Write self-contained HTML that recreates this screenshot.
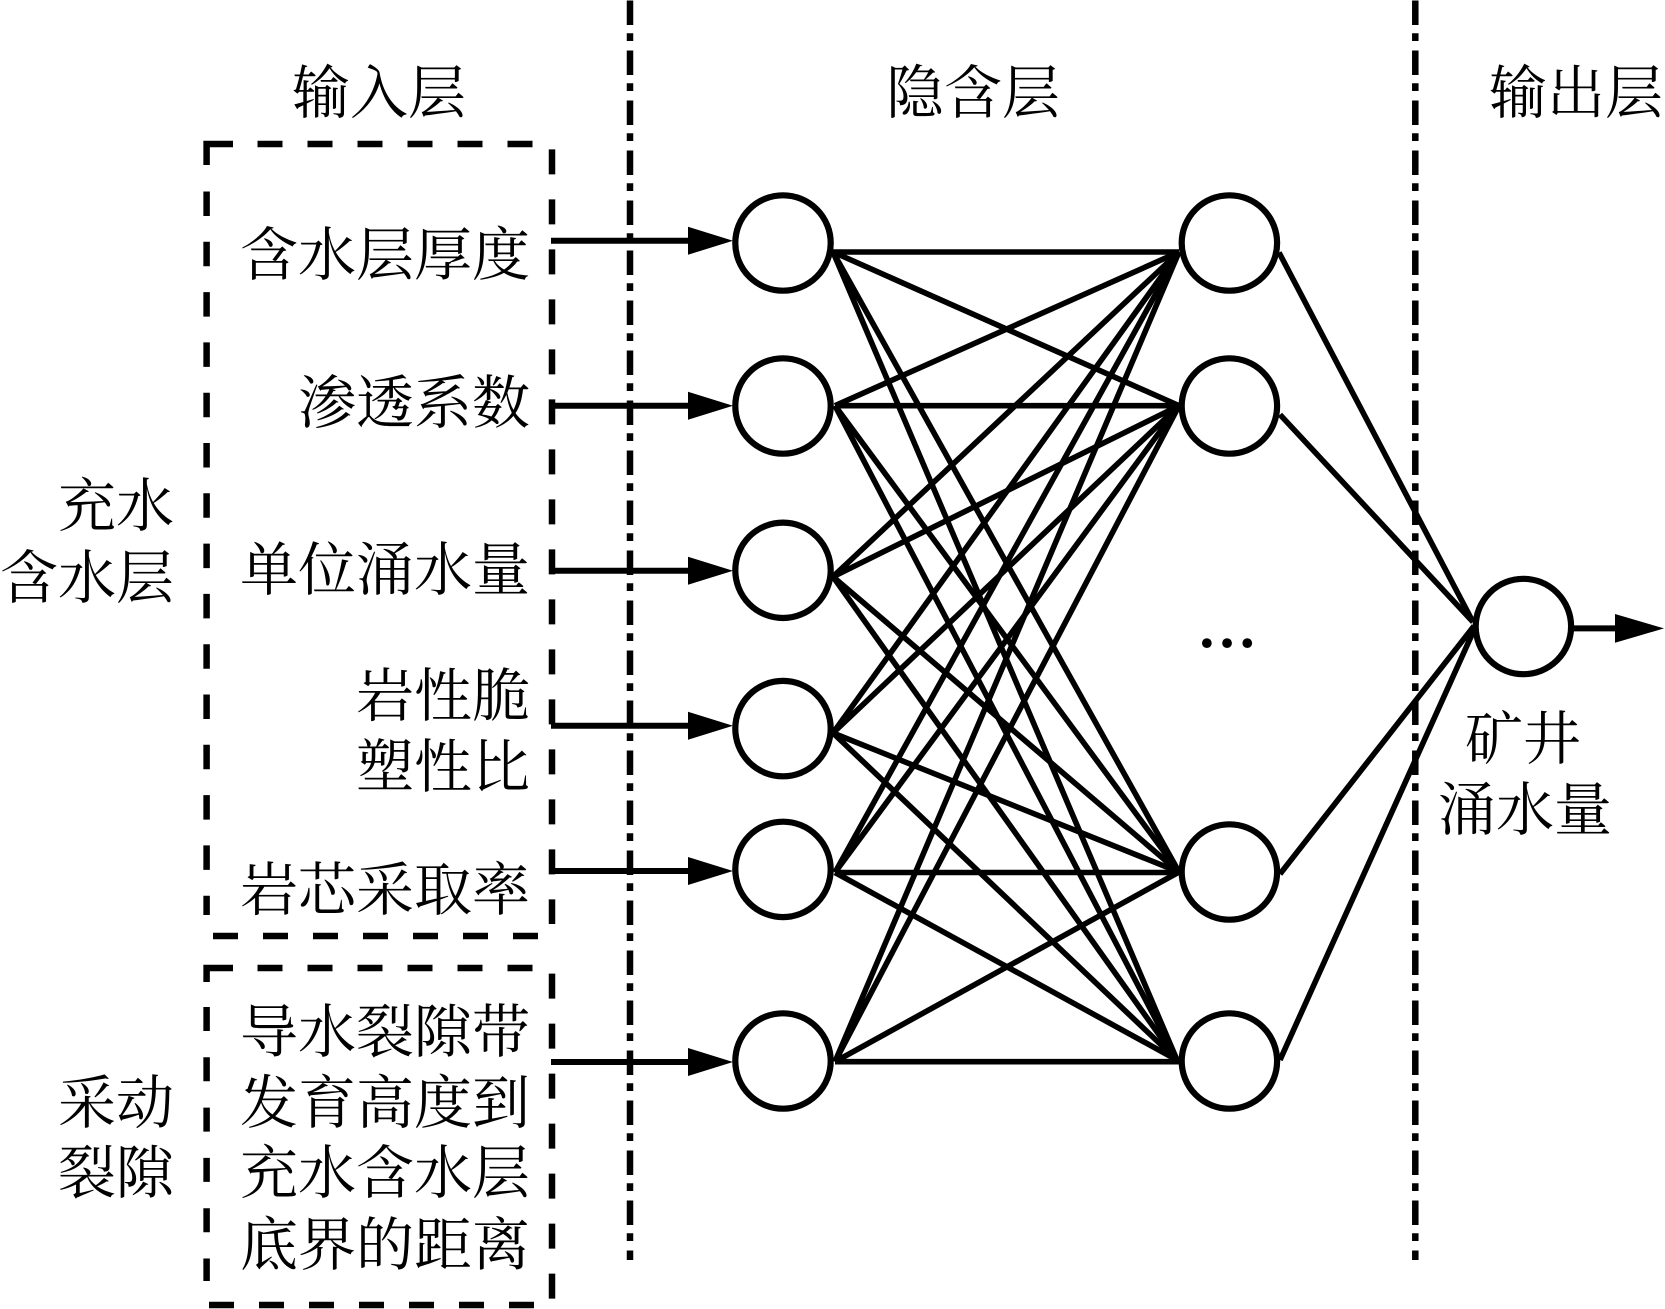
<!DOCTYPE html>
<html lang="zh"><head><meta charset="utf-8"><style>
html,body{margin:0;padding:0;background:#fff}
svg{display:block}
text{font-family:"Liberation Serif","Noto Serif CJK SC",serif;font-size:58px;fill:#000}
</style></head><body>
<svg xmlns="http://www.w3.org/2000/svg" width="1665" height="1309" viewBox="0 0 1665 1309">
<rect width="1665" height="1309" fill="#fff"/>
<g stroke="#000" stroke-width="6.5" fill="none" stroke-dasharray="24.5 8.3 7.7 9.5">
<line x1="630" y1="0.5" x2="630" y2="1260"/>
<line x1="1415.3" y1="0.5" x2="1415.3" y2="1260"/>
</g>
<g stroke="#000" stroke-width="6.5" fill="none">
<path d="M206.6 165V144H233"/>
<line x1="257.5" y1="144" x2="533" y2="144" stroke-dasharray="25 25"/>
<line x1="206.6" y1="191.5" x2="206.6" y2="915" stroke-dasharray="24.5 25.8"/>
<line x1="552" y1="149.4" x2="552" y2="924" stroke-dasharray="25 25"/>
<line x1="213" y1="936" x2="538" y2="936" stroke-dasharray="25 25"/>
<path d="M206.6 982V968H233"/>
<line x1="257.5" y1="968" x2="533" y2="968" stroke-dasharray="25 25"/>
<line x1="206.6" y1="1007" x2="206.6" y2="1281" stroke-dasharray="24 26.3"/>
<line x1="552" y1="973.6" x2="552" y2="1309" stroke-dasharray="25 25"/>
<line x1="209" y1="1305" x2="534" y2="1305" stroke-dasharray="25 25"/>
</g>
<g stroke="#000" stroke-width="5.6" fill="none">
<path d="M833 252L1179 252M833 252L1179 405.7M833 252L1179 872M833 252L1177 1060"/>
<path d="M835 405.7L1179 252M835 405.7L1179 405.7M835 405.7L1179 872M835 405.7L1177 1060"/>
<path d="M833 576.7L1179 252M833 576.7L1179 405.7M833 576.7L1179 872M833 576.7L1177 1060"/>
<path d="M833 733L1179 252M833 733L1179 405.7M833 733L1179 872M833 733L1177 1060"/>
<path d="M835 872.5L1179 252M835 872.5L1179 405.7M835 872.5L1179 872.5M835 872.5L1177 1060"/>
<path d="M835 1061.7L1179 252M835 1061.7L1179 405.7M835 1061.7L1179 872M835 1061.7L1179 1061.7"/>
<path d="M1279 252.5L1473 622M1280 414.6L1473 622M1280 874L1474 626M1280 1060L1474 630"/>
</g>
<g stroke="#000" stroke-width="6.2" fill="#fff">
<circle cx="783" cy="243" r="47.7"/>
<circle cx="783" cy="406" r="47.7"/>
<circle cx="783" cy="570.3" r="47.7"/>
<circle cx="783" cy="728.6" r="47.7"/>
<circle cx="783" cy="869.4" r="47.7"/>
<circle cx="783" cy="1061" r="47.7"/>
<circle cx="1229.4" cy="243" r="47.7"/>
<circle cx="1229.4" cy="406" r="47.7"/>
<circle cx="1229.4" cy="872" r="47.7"/>
<circle cx="1229.4" cy="1061" r="47.7"/>
<circle cx="1523.4" cy="626.5" r="47.7"/>
</g>
<g stroke="#000" stroke-width="6">
<line x1="551" y1="240.7" x2="690" y2="240.7"/>
<line x1="551" y1="405.7" x2="690" y2="405.7"/>
<line x1="551" y1="570.7" x2="690" y2="570.7"/>
<line x1="551" y1="725.7" x2="690" y2="725.7"/>
<line x1="551" y1="871" x2="690" y2="871"/>
<line x1="551" y1="1062" x2="690" y2="1062"/>
<line x1="1574" y1="628.4" x2="1617" y2="628.4"/>
</g>
<g fill="#000">
<path d="M688 226.7L733 240.7L688 254.7Z"/>
<path d="M688 391.7L733 405.7L688 419.7Z"/>
<path d="M688 556.7L733 570.7L688 584.7Z"/>
<path d="M688 711.7L733 725.7L688 739.7Z"/>
<path d="M688 857L733 871L688 885Z"/>
<path d="M688 1048L733 1062L688 1076Z"/>
<path d="M1615 614L1664 628.4L1615 642.8Z"/>
</g>
<text x="292" y="113">输入层</text>
<text x="886" y="113">隐含层</text>
<text x="1489" y="113">输出层</text>
<g text-anchor="end">
<text x="530" y="275">含水层厚度</text>
<text x="530" y="423">渗透系数</text>
<text x="530" y="590">单位涌水量</text>
<text x="530" y="716">岩性脆</text>
<text x="530" y="787">塑性比</text>
<text x="530" y="910">岩芯采取率</text>
<text x="530" y="1052">导水裂隙带</text>
<text x="530" y="1123">发育高度到</text>
<text x="530" y="1193">充水含水层</text>
<text x="530" y="1265">底界的距离</text>
<text x="174" y="526">充水</text>
<text x="174" y="598">含水层</text>
<text x="174" y="1123">采动</text>
<text x="174" y="1193">裂隙</text>
</g>
<text x="1465" y="759">矿井</text>
<text x="1438" y="830">涌水量</text>
<text x="1197" y="647" style="font-family:'Liberation Serif',serif;font-size:60px;font-weight:bold">…</text>
</svg>
</body></html>
